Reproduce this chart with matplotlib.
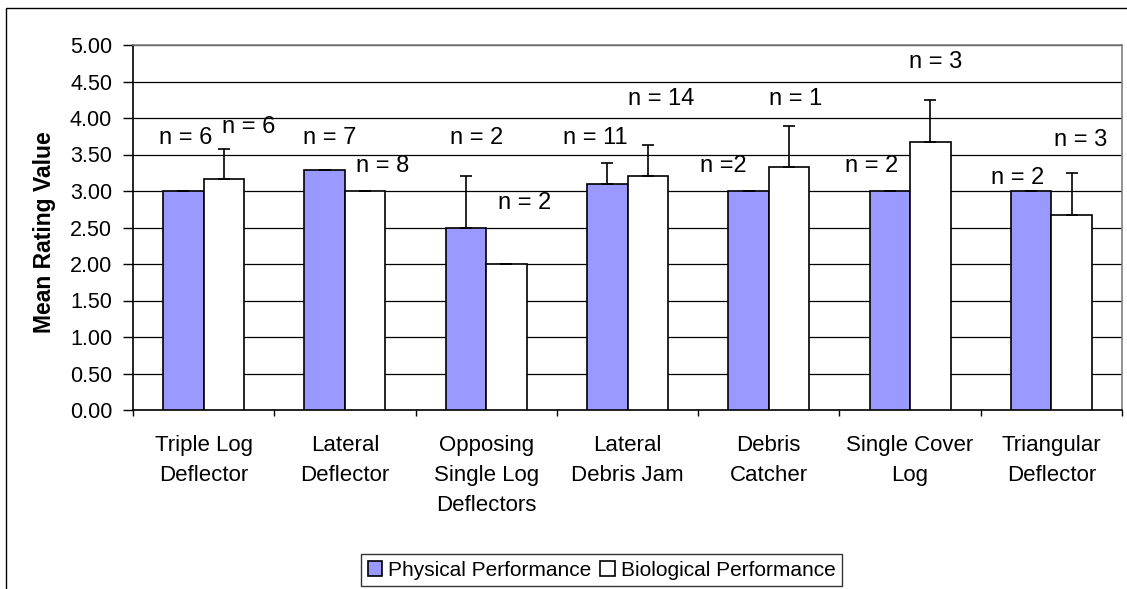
import matplotlib
matplotlib.use("Agg")
import matplotlib.pyplot as plt
import numpy as np
from matplotlib.patches import Rectangle

categories = ["Triple Log\nDeflector", "Lateral\nDeflector", "Opposing\nSingle Log\nDeflectors",
              "Lateral\nDebris Jam", "Debris\nCatcher", "Single Cover\nLog", "Triangular\nDeflector"]
physical = [3.00, 3.29, 2.50, 3.09, 3.00, 3.00, 3.00]
physical_err = [0.0, 0.0, 0.70, 0.30, 0.0, 0.0, 0.0]
biological = [3.17, 3.00, 2.00, 3.21, 3.33, 3.67, 2.67]
biological_err = [0.41, 0.0, 0.0, 0.42, 0.56, 0.58, 0.58]
n_labels = ["n = 6", "n = 6", "n = 7", "n = 8", "n = 2", "n = 2", "n = 11", "n = 14",
            "n =2", "n = 1", "n = 2", "n = 3", "n = 2", "n = 3"]
n_label_x = [-0.13, 0.32, 0.89, 1.27, 1.93, 2.27, 2.77, 3.24, 3.68, 4.19, 4.73, 5.18, 5.76, 6.21]
n_label_y = [3.72, 3.87, 3.72, 3.34, 3.72, 2.83, 3.72, 4.26, 3.34, 4.26, 3.34, 4.77, 3.18, 3.70]
yticks = [0, 0.5, 1, 1.5, 2, 2.5, 3, 3.5, 4, 4.5, 5]

plt.rcParams['font.family'] = ['Liberation Sans', 'DejaVu Sans']

W, H = 1127, 589
fig = plt.figure(figsize=(W / 100, H / 100), dpi=100)
ax = fig.add_axes([133 / W, 1 - 410 / H, (1122 - 133) / W, (410 - 45) / H])

x = np.arange(len(categories))
bw = 0.287
ax.bar(x - bw / 2, physical, bw, color="#9999FF", edgecolor="black", linewidth=1.2,
       label="Physical Performance", zorder=3)
ax.bar(x + bw / 2, biological, bw, color="white", edgecolor="black", linewidth=1.2,
       label="Biological Performance", zorder=3)
ax.errorbar(x - bw / 2, physical, yerr=[np.zeros(len(x)), physical_err], fmt="none",
            ecolor="black", elinewidth=1.2, capsize=4.5, capthick=1.2, zorder=4)
ax.errorbar(x + bw / 2, biological, yerr=[np.zeros(len(x)), biological_err], fmt="none",
            ecolor="black", elinewidth=1.2, capsize=4.5, capthick=1.2, zorder=4)

for t, tx, ty in zip(n_labels, n_label_x, n_label_y):
    ax.text(tx, ty, t, ha="center", va="center", fontsize=17, zorder=5)

ax.set_xlim(-0.5, len(categories) - 0.5)
ax.set_ylim(0, 5)
ax.set_yticks(yticks)
ax.set_yticklabels([f"{v:.2f}" for v in yticks], fontsize=15.5)
ax.yaxis.grid(True, color="black", linewidth=0.9, zorder=0)
ax.set_axisbelow(True)

ax.set_xticks(np.arange(len(categories) + 1) - 0.5)
ax.set_xticklabels([])
ax.set_xticks(x, minor=True)
ax.set_xticklabels(categories, minor=True, fontsize=16, linespacing=1.56, va="top")
ax.tick_params(axis="x", which="major", length=4.5, width=1, direction="out")
ax.tick_params(axis="x", which="minor", length=0, pad=18)
ax.tick_params(axis="y", length=7, width=1, direction="out", pad=8)

ax.spines["top"].set_color("#808080")
ax.spines["right"].set_color("#808080")
for s in ax.spines.values():
    s.set_linewidth(1.2)

ax.set_ylabel("Mean Rating Value", fontsize=16.5, fontweight="bold")
ax.yaxis.set_label_coords((56 - 133) / 989, 1 - (232 - 45) / 365)

leg = fig.legend(loc="center", bbox_to_anchor=(601.5 / W, 1 - 570 / H), ncol=2,
                 fontsize=15, frameon=True, fancybox=False, edgecolor="black",
                 handlelength=0.7, handleheight=0.7, handletextpad=0.3, columnspacing=0.4,
                 borderpad=0.3)
leg.get_frame().set_linewidth(1.0)

fig.patches.append(Rectangle((6 / W, -0.1), 1.2, 1 - 8 / H + 0.1, transform=fig.transFigure,
                             fill=False, edgecolor="black", linewidth=1.0))

fig.savefig("out.png", dpi=100)
